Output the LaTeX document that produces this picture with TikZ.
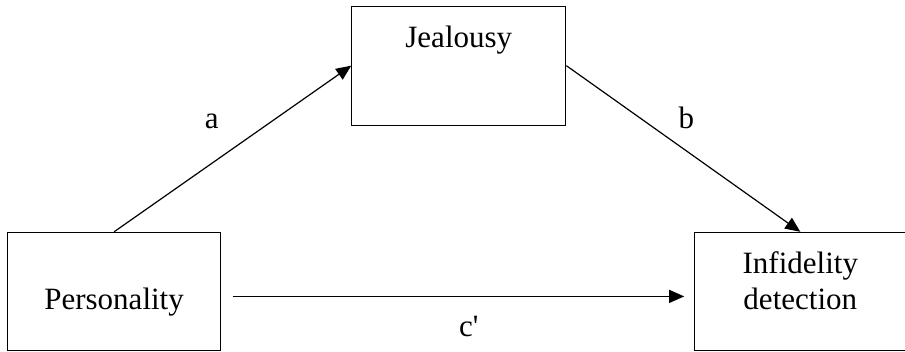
\documentclass[tikz,border=0pt]{standalone}
\usepackage{fontspec}
\setmainfont{Liberation Serif}
\usetikzlibrary{positioning,arrows.meta}

\begin{document}
\begin{tikzpicture}[x=1pt,y=1pt,->,>={Triangle[length=15pt,width=13pt]},line width=1.2pt,
    font=\fontsize{31}{36}\selectfont,
    var/.style={draw,rectangle,inner sep=0pt,align=center,-},
    lab/.style={midway,anchor=base,inner sep=0pt}]
    \useasboundingbox (0,0) rectangle (905,352);
    \node[var,text width=213pt,text height=77pt,text depth=41pt,anchor=south west] (pers) at (7,1) {Personality};
    \node[var,text width=214pt,text height=41pt,text depth=78pt] (jeal) [above right=106pt and 130pt of pers] {Jealousy};
    % two lines: depth counts from the first baseline
    \node[var,text width=211pt,text height=41pt,text depth=77pt] (inf) [right=473pt of pers] {Infidelity\\detection};

    \draw (pers.north) -- node[lab,xshift=-21pt,yshift=20pt] {a} (jeal.west);
    \draw (jeal.east) -- node[lab,xshift=3pt,yshift=20pt] {b} (inf.north);
    \draw ([xshift=12pt,yshift=-5pt]pers.east) -- node[lab,xshift=10pt,yshift=-40pt] {c\textquotesingle} ([xshift=-10pt,yshift=-5pt]inf.west);
\end{tikzpicture}
\end{document}
